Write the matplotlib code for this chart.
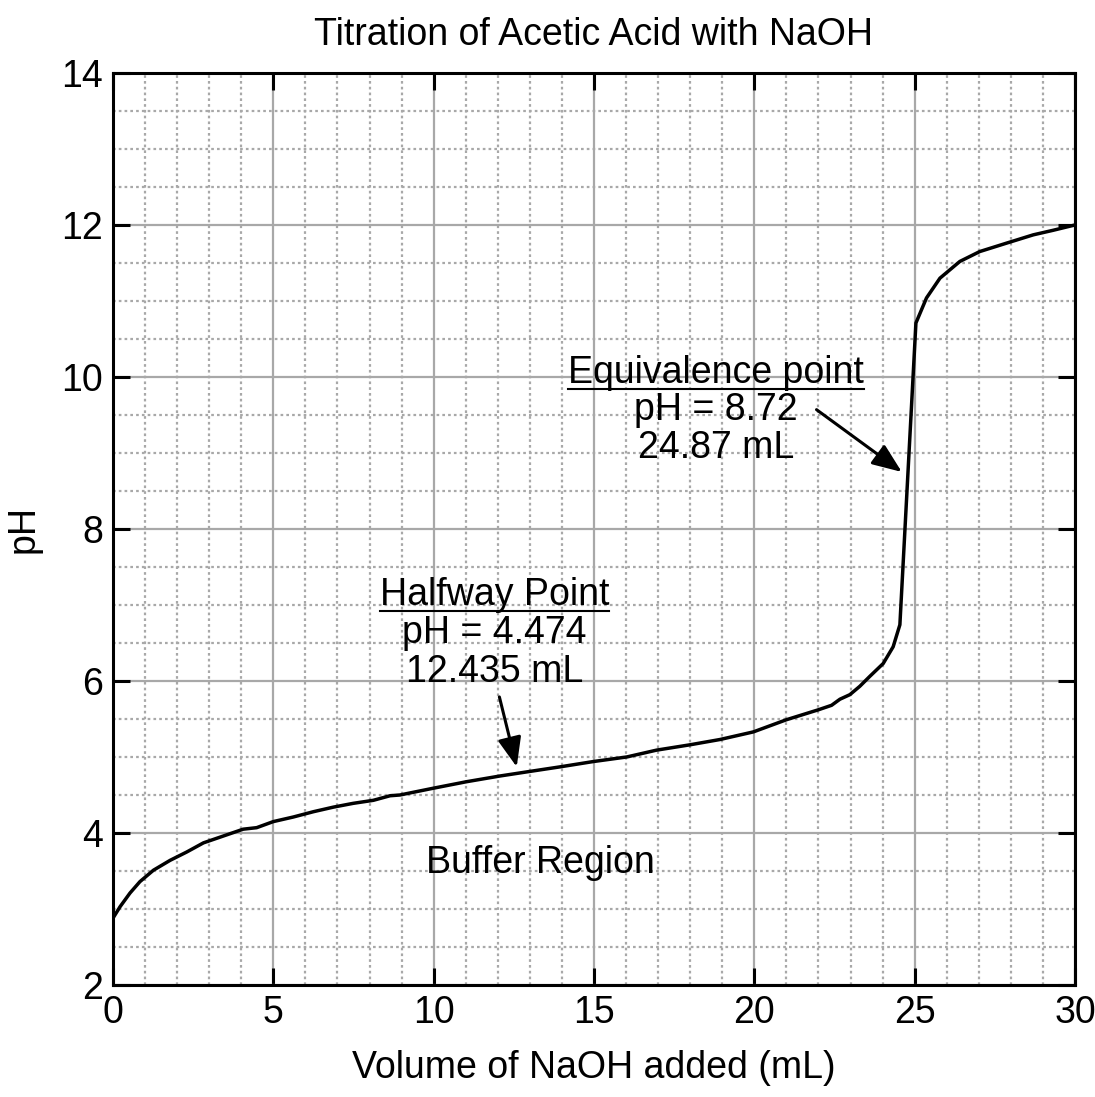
import numpy as np
import matplotlib
matplotlib.use("Agg")
import matplotlib.pyplot as plt
from matplotlib.lines import Line2D

plt.rcParams['font.family'] = ['Liberation Sans', 'DejaVu Sans']

# titration curve
volume = [0.0, 0.22, 0.53, 0.84, 1.26, 1.78, 2.30, 2.82, 3.44, 4.06, 4.48, 5.0,
          5.62, 6.25, 6.87, 7.49, 8.12, 8.64, 8.95, 10.0, 11.03, 12.07, 13.0,
          13.94, 14.98, 16.02, 16.95, 17.99, 18.93, 19.97, 21.0, 21.99, 22.41,
          22.67, 22.98, 23.29, 23.6, 24.02, 24.33, 24.54, 25.04, 25.37, 25.79,
          26.41, 27.03, 27.86, 28.7, 29.32, 30.0]
ph = [2.88, 3.03, 3.21, 3.36, 3.51, 3.64, 3.75, 3.87, 3.96, 4.05, 4.07, 4.15,
      4.21, 4.28, 4.34, 4.39, 4.43, 4.49, 4.50, 4.59, 4.675, 4.75, 4.81,
      4.87, 4.94, 5.00, 5.09, 5.16, 5.23, 5.33, 5.49, 5.62, 5.68,
      5.76, 5.82, 5.93, 6.06, 6.23, 6.45, 6.74, 10.71, 11.04, 11.30,
      11.52, 11.65, 11.76, 11.87, 11.93, 12.0]

x_ticks = [0, 5, 10, 15, 20, 25, 30]
y_ticks = [2, 4, 6, 8, 10, 12, 14]

equiv_lines = ["Equivalence point", "pH = 8.72", "24.87 mL"]
half_lines = ["Halfway Point", "pH = 4.474", "12.435 mL"]

fig = plt.figure(figsize=(10.95, 10.97), dpi=100)
ax = fig.add_axes([0.1032, 0.1021, 0.8785, 0.8314])

ax.set_xlim(0, 30)
ax.set_ylim(2, 14)
ax.set_xticks(x_ticks)
ax.set_yticks(y_ticks)
ax.set_xticks(np.arange(0, 31, 1), minor=True)
ax.set_yticks(np.arange(2, 14.01, 0.5), minor=True)

ax.grid(which='major', color='#a8a8a8', linestyle='-', linewidth=1.6)
ax.grid(which='minor', color='#a8a8a8', linestyle=(0, (1.2, 1.4)), linewidth=1.6)
ax.set_axisbelow(True)

ax.tick_params(which='major', direction='in', length=12, width=2.2,
               top=True, right=True, labelsize=27, pad=7)
ax.tick_params(which='minor', length=0)
for sp in ax.spines.values():
    sp.set_linewidth(2.2)

ax.plot(volume, ph, color='black', linewidth=2.5, zorder=3)

fs = 27
ax.set_title("Titration of Acetic Acid with NaOH", fontsize=fs, pad=20)
ax.set_xlabel("Volume of NaOH added (mL)", fontsize=fs, labelpad=14)
ax.set_ylabel("pH", fontsize=fs, labelpad=14)

# annotations
eq_txt = []
for line, yy in zip(equiv_lines, [9.92, 9.43, 8.93]):
    eq_txt.append(ax.text(18.8, yy, line, ha='center', va='baseline', fontsize=fs))
hw_txt = []
for line, yy in zip(half_lines, [7.0, 6.50, 5.99]):
    hw_txt.append(ax.text(11.9, yy, line, ha='center', va='baseline', fontsize=fs))

ax.text(13.33, 3.47, "Buffer Region", ha='center', va='baseline', fontsize=fs)

arrow = dict(arrowstyle='-|>,head_length=1.0,head_width=0.4', color='black',
             linewidth=2.2, shrinkA=0, shrinkB=0, mutation_scale=18)
ax.annotate("", xy=(24.60, 8.75), xytext=(21.94, 9.57), arrowprops=arrow)
ax.annotate("", xy=(12.59, 4.87), xytext=(12.05, 5.79), arrowprops=arrow)

# underline the heading of each annotation
fig.canvas.draw()
renderer = fig.canvas.get_renderer()
for t in (eq_txt[0], hw_txt[0]):
    bb = t.get_window_extent(renderer)
    base = ax.transData.transform(t.get_position())[1] - 6
    fig.add_artist(Line2D([bb.x0, bb.x1], [base, base], color='black',
                          linewidth=1.5, transform=None))

fig.savefig("out.png", dpi=100)
